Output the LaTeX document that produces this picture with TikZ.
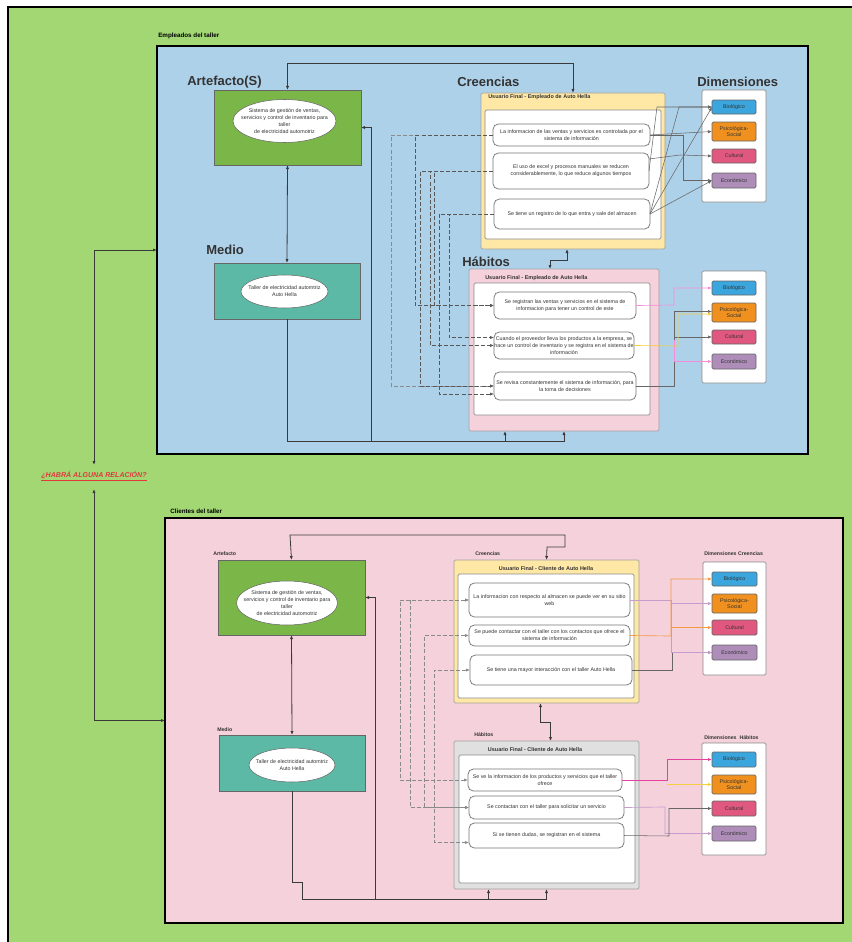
\documentclass[tikz,border=0pt]{standalone}
\usepackage{fontspec}
\setmainfont{Liberation Sans}
\usetikzlibrary{arrows.meta,shapes.geometric,calc}
\definecolor{bgG}{HTML}{A2D773}
\definecolor{bluP}{HTML}{AED1EA}
\definecolor{pinkP}{HTML}{F5D1DC}
\definecolor{artG}{HTML}{7AB648}
\definecolor{medT}{HTML}{5BB9A5}
\definecolor{yelB}{HTML}{FFE8A6}
\definecolor{grayB}{HTML}{E0E0E0}
\definecolor{bioC}{HTML}{3AA6DD}
\definecolor{psiC}{HTML}{F0911F}
\definecolor{culC}{HTML}{E0587F}
\definecolor{ecoC}{HTML}{AE8DB9}
\definecolor{txt}{HTML}{333333}
\definecolor{dk}{HTML}{3A3A3A}
\definecolor{ln}{HTML}{666666}
\definecolor{lgt}{HTML}{8A8A8A}
\definecolor{redT}{HTML}{E0393E}
\definecolor{pinkL}{HTML}{F58BDA}
\definecolor{magL}{HTML}{E6409F}
\definecolor{yelL}{HTML}{F5CF3C}
\definecolor{oraL}{HTML}{F39A45}
\definecolor{purL}{HTML}{C79BCB}
\newcommand{\tinyf}{\fontsize{4}{5.15}\selectfont}
\newcommand{\bx}[7]{\node[#6, minimum width={(#4-#2)*0.75pt}, minimum height={(#5-#3)*0.75pt}] (#1) at ({(#2+#4)/2},{(#3+#5)/2}) {#7};}
\begin{document}
\begin{tikzpicture}[x=0.75pt,y=-0.75pt,
  panel/.style={draw=black, line width=1.1pt, inner sep=0pt, outer sep=0pt},
  blk/.style={draw=ln, line width=0.5pt, inner sep=0pt, outer sep=0pt},
  ybox/.style={draw=lgt!80, fill=yelB, line width=0.6pt, rounded corners=1pt, inner sep=0pt, outer sep=0pt},
  wbox/.style={draw=lgt, fill=white, line width=0.5pt, rounded corners=1pt, inner sep=0pt, outer sep=0pt},
  rbox/.style={draw=ln!90, fill=white, line width=0.55pt, rounded corners=4pt, inner sep=0pt, outer sep=0pt, align=center, font=\tinyf, text=txt},
  dim/.style={draw=ln, line width=0.5pt, rounded corners=1pt, inner sep=0pt, outer sep=0pt, align=center, font=\tinyf, text=txt},
  ell/.style={ellipse, draw=ln, fill=white, line width=0.4pt, inner sep=0pt},
  etxt/.style={inner sep=0pt, align=center, font=\tinyf, text=txt},
  head/.style={anchor=west, inner sep=0pt, font=\fontsize{9.75}{11}\selectfont\bfseries, text=txt},
  shead/.style={anchor=west, inner sep=0pt, font=\fontsize{3.9}{5}\selectfont\bfseries, text=txt},
  plab/.style={anchor=west, inner sep=0pt, font=\fontsize{4.7}{5.5}\selectfont\bfseries, text=black},
  ttl/.style={inner sep=0pt, font=\fontsize{4.1}{5}\selectfont\bfseries, text=txt},
  conn/.style={draw=dk, line width=0.6pt},
  dl/.style={draw=ln, line width=0.4pt},
  dsh/.style={draw=dk!85, line width=0.5pt, dash pattern=on 3pt off 1.6pt},
  ldsh/.style={draw=lgt, line width=0.5pt, dash pattern=on 3pt off 1.6pt},
  >={Latex[length=3pt,width=2.4pt]}]
\useasboundingbox (0,0) rectangle (852,942);
\fill[white] (0,0) rectangle (852,942);
\draw[fill=bgG, line width=1.1pt] (8,7) rectangle (880,970);

% ===== panels =====
\bx{emp}{157}{46}{808}{454}{panel, fill=bluP}{}
\bx{cli}{165}{518}{843}{923}{panel, fill=pinkP}{}
\node[plab] (lemp) at (158,36) {Empleados del taller};
\node[plab] (lcli) at (170,511) {Clientes del taller};

% ===== relation =====
\node[inner sep=0pt, text=redT, font=\fontsize{5.3}{6}\selectfont\bfseries\itshape] (rel) at (94,476) {\underline{¿HABRÁ ALGUNA RELACIÓN?}};
\coordinate (relt) at (94,465);
\coordinate (relb) at (94,489);
\draw[conn,<->] (emp.west) -| (relt);
\draw[conn,<->] (cli.west) -| (relb);

% ===== TOP PANEL =====
\node[head] (hart) at (187,82) {Artefacto(S)};
\node[head] (hmed) at (206,250) {Medio};
\node[head] (hcre) at (457,82) {Creencias};
\node[head] (hdim) at (697,82) {Dimensiones};
\node[head] (hhab) at (462,262) {Hábitos};

\bx{art}{214}{90}{361}{165}{blk, fill=artG}{}
\node[ell, minimum width=103*0.75pt, minimum height=43*0.75pt] (arte) at (284.5,121) {};
\node[etxt] (artt) at (arte.center) {Sistema de gestión de ventas,\\servicios y control de inventario para\\taller\\de electricidad automotriz};
\bx{med}{214}{263}{360}{319}{blk, fill=medT}{}
\node[ell, minimum width=87*0.75pt, minimum height=33*0.75pt] (mede) at (284.5,291.5) {};
\node[etxt] (medt) at (mede.center) {Taller de electricidad automtriz\\Auto Hella};

% creencias
\bx{cre}{481}{93}{665}{249}{ybox}{}
\bx{crei}{485}{110}{661}{239}{wbox}{}
\node[ttl, anchor=west] (cret) at (488,97) {Usuario Final - Empleado de Auto Hella};
\bx{c1}{493}{124}{650}{146}{rbox}{La informacion de las ventas y servicios es controlada por el\\sistema de información}
\bx{c2}{493}{153}{649}{189}{rbox}{El uso de excel y procesos manuales se reducen\\considerablemente, lo que reduce algunos tiempos}
\bx{c3}{494}{199}{650}{229}{rbox}{Se tiene un registro de lo que entra y sale del almacen}

% dimensiones top
\bx{dimT}{702}{90}{766}{202}{wbox}{}
\bx{tb}{712}{100}{756}{114}{dim, fill=bioC}{Biológico}
\bx{tp}{712}{122}{756}{141}{dim, fill=psiC}{Psicológica-\\Social}
\bx{tc}{712}{149}{756}{163}{dim, fill=culC}{Cultural}
\bx{te}{712}{173}{756}{188}{dim, fill=ecoC}{Económico}

% habitos top
\bx{hab}{469}{269}{659}{431}{ybox, fill=pinkP}{}
\bx{habi}{474}{283}{650}{415}{wbox}{}
\node[ttl, anchor=west] (habt) at (485,278) {Usuario Final - Empleado de Auto Hella};
\bx{h1}{494}{292}{636}{319}{rbox}{Se registran las ventas y servicios en el sistema de\\informacion para tener un control de este}
\bx{h2}{494}{332}{634}{359}{rbox}{Cuando el proveedor lleva los productos a la empresa, se\\hace un control de inventario y se registra en el sistema de\\información}
\bx{h3}{494}{372}{636}{400}{rbox}{Se revisa constantemente el sistema de información, para\\la toma de decisiones}

\bx{dimH1}{702}{271}{766}{383}{wbox}{}
\bx{hb}{712}{281}{756}{295}{dim, fill=bioC}{Biológico}
\bx{hp}{712}{303}{756}{322}{dim, fill=psiC}{Psicológica-\\Social}
\bx{hc}{712}{330}{756}{344}{dim, fill=culC}{Cultural}
\bx{he}{712}{354}{756}{369}{dim, fill=ecoC}{Económico}

% solid connectors top
\draw[conn,<->] (art.north) -- ++(0,-27) -| (cre.north);
\draw[conn,<->] (art.south) -- (med.north);
\draw[conn,->] (med.south) -- ++(0,122) -| (hab.south);
\draw[conn,<->] (art.east) -| (371,441) -| ($(hab.south)+(-59,0)$);
\draw[conn,<->] ($(cre.south)+(-6,0)$) -- ++(0,11) -| ($(hab.north)+(-14,0)$);

% creencias -> dimensiones
\draw[dl,->] (c1.east) -- (tp.west);
\draw[dl,->] (c1.east) -- (683,135) |- (te.west);
\draw[dl,->] (c2.east) -- (657,107) -- (tb.west);
\draw[dl,->] ([yshift=9pt]c2.east) -- (680,155) -- (tc.west);
\draw[dl,->] (c3.east) -- (679,107) -- (tb.west);
\draw[dl,->] (c3.east) -- (tb.west);
\draw[dl,->] (c3.east) -- (te.west);

% habitos -> dimensiones
\draw[dl,->] (h3.east) -- (674,386) |- ($(hp.west)+(0,-1)$);
\draw[dl,->] (674,386) |- (hc.west);
\draw[draw=pinkL, line width=0.5pt,->] (h1.east) -- (674,305) |- (hb.west);
\draw[draw=pinkL, line width=0.5pt,->] (674,340) |- (he.west);
\draw[draw=yelL, line width=0.5pt,->] (h2.east) -- (678,346) |- ($(hp.west)+(0,1.5)$);

% dashed creencias -> habitos
\draw[ldsh,->] (c1.west) -- (391,135) |- (h3.west);
\draw[dsh,->] (c1.west) -- (415,135) |- (h1.west);
\draw[dsh,->] (c2.west) -- (420,171) |- (h3.west);
\draw[dsh,->] (c2.west) -- (430,171) |- (h2.west);
\draw[dsh,->] (c2.west) -- (434,171) |- (h1.west);
\draw[dsh,->] (c3.west) -- (439,214) |- ($(h3.west)+(0,8)$);
\draw[dsh,->] (c3.west) -- (449,214) |- ($(h2.west)+(0,-8)$);

% ===== BOTTOM PANEL =====
\node[shead] (hart2) at (213,554) {Artefacto};
\node[shead] (hmed2) at (217,730) {Medio};
\node[shead] (hcre2) at (475,554) {Creencias};
\node[shead] (hdc) at (704,554) {Dimensiones Creencias};
\node[shead] (hhab2) at (474,735) {Hábitos};
\node[shead] (hdh) at (704,738) {Dimensiones\ \ Hábitos};

\bx{art2}{218}{560}{365}{635}{blk, fill=artG}{}
\node[ell, minimum width=101*0.75pt, minimum height=44*0.75pt] (arte2) at (287,603) {};
\node[etxt] (artt2) at (arte2.center) {Sistema de gestión de ventas,\\servicios y control de inventario para\\taller\\de electricidad automotriz};
\bx{med2}{219}{735}{365}{791}{blk, fill=medT}{}
\node[ell, minimum width=86*0.75pt, minimum height=34*0.75pt] (mede2) at (292,765) {};
\node[etxt] (medt2) at (mede2.center) {Taller de electricidad automtriz\\Auto Hella};

\bx{cre2}{454}{560}{639}{703}{ybox}{}
\bx{cre2i}{458}{574}{634}{698}{wbox}{}
\node[ttl] (cre2t) at (546,568.5) {Usuario Final - Cliente de Auto Hella};
\bx{b1}{469}{583}{630}{617}{rbox}{La informacion con respecto al almacen se puede ver en su sitio\\web}
\bx{b2}{469}{625}{630}{646}{rbox}{Se puede contactar con el taller con los contactos que ofrece el\\sistema de información}
\bx{b3}{470}{655}{632}{685}{rbox}{Se tiene una mayor interacción con el taller Auto Hella}

\bx{dimC}{703}{562}{766}{675}{wbox}{}
\bx{cb}{712}{572}{757}{586}{dim, fill=bioC}{Biológico}
\bx{cp}{712}{594}{757}{613}{dim, fill=psiC}{Psicológica-\\Social}
\bx{cc}{712}{620}{757}{635}{dim, fill=culC}{Cultural}
\bx{ce}{712}{645}{757}{660}{dim, fill=ecoC}{Económico}

\bx{hg}{454}{741}{639}{889}{ybox, fill=grayB}{}
\bx{hgi}{459}{755}{635}{883}{wbox}{}
\node[ttl] (hgt) at (535,749.5) {Usuario Final - Cliente de Auto Hella};
\bx{g1}{468}{769}{622}{791}{rbox}{Se ve la informacion de los productos y servicios que el taller\\ofrece}
\bx{g2}{469}{796}{624}{819}{rbox}{Se contactan con el taller para solicitar un servicio}
\bx{g3}{469}{823}{624}{848}{rbox}{Si se tienen dudas, se registran en el sistema}

\bx{dimG}{702}{743}{766}{855}{wbox}{}
\bx{gb}{712}{752}{756}{767}{dim, fill=bioC}{Biológico}
\bx{gp}{712}{775}{756}{794}{dim, fill=psiC}{Psicológica-\\Social}
\bx{gc}{712}{801}{756}{816}{dim, fill=culC}{Cultural}
\bx{ge}{712}{826}{756}{841}{dim, fill=ecoC}{Económico}

% solid connectors bottom
\draw[conn,<->] (art2.north) -- (290,535) -- (565,535) -- (565,547) -- (547,547) -- (cre2.north);
\draw[conn,<->] (art2.south) -- (med2.north);
\draw[conn,->] (med2.south) -- (292,882) -- (302,882) -- (302,899) -| (hg.south);
\draw[conn,<->] (art2.east) -| (375,899) -| ($(hg.south)+(-58,0)$);
\draw[conn,<->] ($(cre2.south)+(-6,0)$) -- ++(0,19) -- ++(10,0) -- ($(hg.north)+(4,0)$);

% creencias -> dimensiones (bottom)
\draw[dl,->] (b3.east) -- (672,670) |- (ce.west);
\draw[draw=purL, line width=0.5pt,->] (b1.east) -- (671,600) |- (cp.west);
\draw[draw=purL, line width=0.5pt,->] (671,600) |- (ce.west);
\draw[draw=oraL, line width=0.5pt,->] (b2.east) -- (671,636) |- (cb.west);
\draw[draw=oraL, line width=0.5pt,->] (671,636) |- (cc.west);

% habitos -> dimensiones (bottom)
\draw[draw=purL, line width=0.5pt,->] (g2.east) -- (665,807) |- (ge.west);
\draw[dl,->] (g3.east) -- (669,836) |- (gc.west);
\draw[draw=yelL, line width=0.5pt,->] (667,784.5) -- (gp.west);
\draw[draw=magL, line width=0.6pt,->] (g1.east) -- (667,780) |- (gb.west);

% dashed creencias -> habitos (bottom)
\draw[ldsh,<->] (b1.west) -- (400,600) |- (g1.west);
\draw[ldsh,<->] (b1.west) -- (410,600) |- (g2.west);
\draw[ldsh,<->] (b2.west) -- (424,635.5) |- (g2.west);
\draw[ldsh,<->] (b3.west) -- (434,670) |- ($(g3.west)+(0,7)$);
\end{tikzpicture}
\end{document}
